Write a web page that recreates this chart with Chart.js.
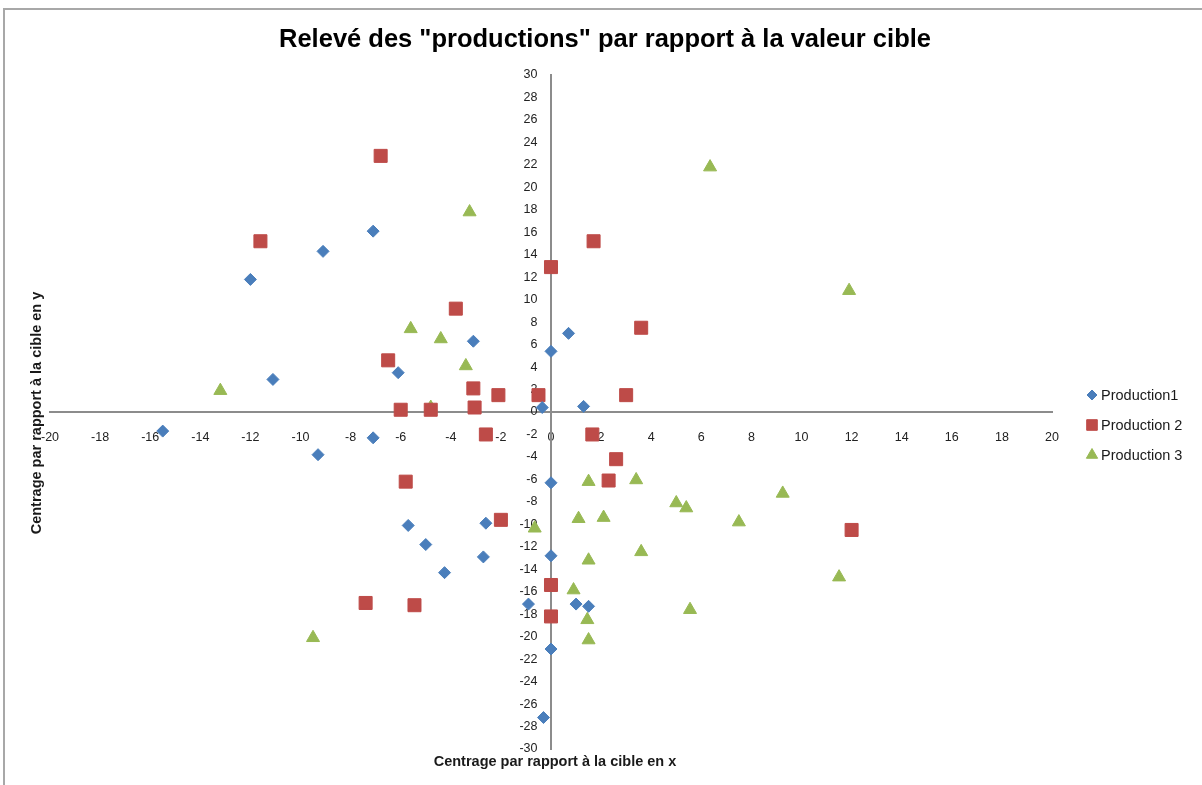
<!DOCTYPE html>
<html>
<head>
<meta charset="utf-8">
<script src="https://cdn.jsdelivr.net/npm/chart.js@4.4.1/dist/chart.umd.min.js"></script>
<style>
  html, body { margin: 0; padding: 0; background: #fff; overflow: hidden; }
  #frame { position: absolute; left: 3px; top: 8px; width: 1300px; height: 900px;
           border-top: 2px solid #a8a8a8; border-left: 2px solid #a8a8a8; }
  #wrap { position: absolute; left: 0; top: 0; width: 1202px; height: 785px; }
</style>
</head>
<body>
<div id="frame"></div>
<div id="wrap"><canvas id="chart"></canvas></div>
<script>
// values
const chartTitle = 'Relevé des "productions" par rapport à la valeur cible';
const xTitle = "Centrage par rapport à la cible en x";
const yTitle = "Centrage par rapport à la cible en y";
const seriesNames = ["Production1", "Production 2", "Production 3"];

const prod1X = [-12.0, -9.1, -7.1, -11.1, -6.1, -3.1, 0.0, -0.35, 0.7, 1.3, -15.5, -7.1, -9.3, -5.7, -2.6, -5.0, -2.7, -4.25, -0.9, 0.0, 0.0, 0.0, -0.3, 1.0, 1.5];
const prod1Y = [11.8, 14.3, 16.1, 2.9, 3.5, 6.3, 5.4, 0.4, 7.0, 0.5, -1.7, -2.3, -3.8, -10.1, -9.9, -11.8, -12.9, -14.3, -17.1, -6.3, -12.8, -21.1, -27.2, -17.1, -17.3];

const prod2X = [-6.8, -11.6, -3.8, -6.5, -3.1, -2.1, -0.5, -6.0, -4.8, -3.05, 0.0, 1.7, 3.6, 3.0, -2.6, -5.8, -2.0, -7.4, -5.45, 0.0, 0.0, 1.65, 2.6, 2.3, 12.0];
const prod2Y = [22.8, 15.2, 9.2, 4.6, 2.1, 1.5, 1.5, 0.2, 0.2, 0.4, 12.9, 15.2, 7.5, 1.5, -2.0, -6.2, -9.6, -17.0, -17.2, -15.4, -18.2, -2.0, -4.2, -6.1, -10.5];

const prod3X = [-3.25, -13.2, -5.6, -4.4, -3.4, -4.8, 6.35, 11.9, -0.65, -9.5, 1.5, 3.4, 9.25, 5.0, 5.4, 1.1, 2.1, 7.5, 3.6, 1.5, 11.5, 0.9, 5.55, 1.45, 1.5];
const prod3Y = [17.8, 1.9, 7.4, 6.5, 4.1, 0.4, 21.8, 10.8, -10.35, -20.1, -6.2, -6.05, -7.25, -8.1, -8.55, -9.5, -9.4, -9.8, -12.45, -13.2, -14.7, -15.85, -17.6, -18.5, -20.3];

const xRange = [-20, 20];
const yRange = [-30, 30];

const toPoints = (xs, ys) => xs.map((x, i) => ({ x, y: ys[i] }));
const FONT = "'Liberation Sans', Arial, sans-serif";

// title, axis titles and legend: the axes cross at 0, so these sit around the plot by hand
const decorations = {
    id: "decorations",
    afterDraw(chart) {
        const { ctx } = chart;
        ctx.save();
        ctx.fillStyle = "#000";
        ctx.textAlign = "center";
        ctx.textBaseline = "middle";
        ctx.font = "bold 25.5px " + FONT;
        ctx.fillText(chartTitle, 605, 40);

        ctx.fillStyle = "#1a1a1a";
        ctx.font = "bold 14.5px " + FONT;
        ctx.fillText(xTitle, 555, 762);
        ctx.translate(37, 413);
        ctx.rotate(-Math.PI / 2);
        ctx.fillText(yTitle, 0, 0);
        ctx.restore();

        ctx.save();
        ctx.font = "14.5px " + FONT;
        ctx.textAlign = "left";
        ctx.textBaseline = "middle";
        chart.data.datasets.forEach((ds, i) => {
            const y = 395 + i * 30;
            ctx.fillStyle = ds.backgroundColor;
            ctx.strokeStyle = ds.borderColor;
            ctx.lineWidth = 1;
            Chart.helpers.drawPoint(ctx, { pointStyle: ds.pointStyle, radius: ds.legendRadius, rotation: 0, borderWidth: 1 }, 1092, y);
            ctx.fillStyle = "#1a1a1a";
            ctx.fillText(ds.label, 1101, y + 1);
        });
        ctx.restore();
    }
};

new Chart(document.getElementById("chart"), {
    type: "scatter",
    data: {
        datasets: [
            { label: seriesNames[0], data: toPoints(prod1X, prod1Y), pointStyle: "rectRot", pointRadius: 6, legendRadius: 5,
              backgroundColor: "#4A7EBB", borderColor: "#4A7EBB", borderWidth: 1 },
            { label: seriesNames[1], data: toPoints(prod2X, prod2Y), pointStyle: "rect", pointRadius: 9.2, legendRadius: 7.5,
              backgroundColor: "#BE4B48", borderColor: "#BE4B48", borderWidth: 1 },
            { label: seriesNames[2], data: toPoints(prod3X, prod3Y), pointStyle: "triangle", pointRadius: 7.5, legendRadius: 6.5,
              backgroundColor: "#98B954", borderColor: "#98B954", borderWidth: 1 },
        ],
    },
    options: {
        responsive: true,
        maintainAspectRatio: false,
        animation: false,
        layout: { padding: { left: 50, right: 150, top: 75, bottom: 36 } },
        plugins: {
            legend: { display: false },
            tooltip: { enabled: false },
        },
        scales: {
            x: {
                type: "linear",
                min: xRange[0], max: xRange[1],
                position: { y: 0 },
                grid: { display: false, drawTicks: false },
                border: { display: true, color: "#8c8c8c", width: 2 },
                ticks: { stepSize: 2, padding: 18, color: "#222", font: { family: FONT, size: 12.5 } },
            },
            y: {
                type: "linear",
                min: yRange[0], max: yRange[1],
                position: { x: 0 },
                grid: { display: false, drawTicks: false },
                border: { display: true, color: "#8c8c8c", width: 2 },
                // labels sit right-aligned on the axis line, so pad them with spaces
                ticks: { stepSize: 2, color: "#222", font: { family: FONT, size: 12.5 },
                         callback: (v) => v + "\u2002\u2002\u200A" },
            },
        },
    },
    plugins: [decorations],
});
</script>
</body>
</html>
